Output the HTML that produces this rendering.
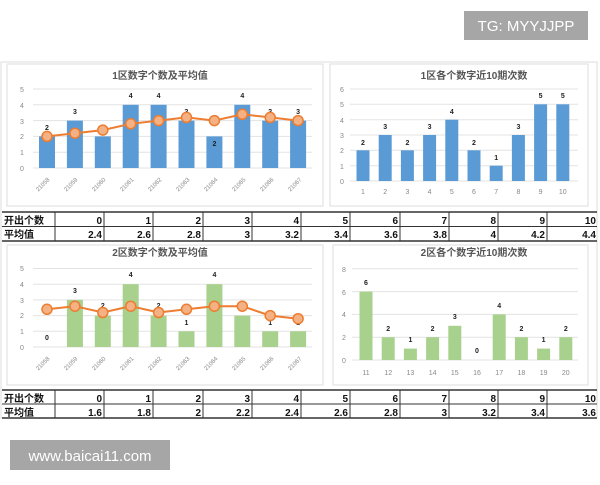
<!DOCTYPE html><html><head><meta charset="utf-8"><style>
body{margin:0;background:#fff;}
svg text{font-family:"Liberation Sans","Noto Sans CJK SC",sans-serif;}
</style></head><body>
<svg width="600" height="480" viewBox="0 0 600 480" xmlns="http://www.w3.org/2000/svg">
<rect width="600" height="480" fill="#fff"/>
<rect x="464" y="11" width="124" height="29" fill="#a6a6a6"/>
<text x="526" y="31" font-size="15" fill="#fff" text-anchor="middle">TG: MYYJJPP</text>
<!-- panels -->
<rect x="1" y="62" width="596" height="356" fill="none" stroke="#ddd"/>
<rect x="7" y="64" width="316" height="142" fill="#fff" stroke="#ddd"/>
<rect x="330" y="64" width="258" height="142" fill="#fff" stroke="#ddd"/>
<rect x="7" y="245" width="316" height="140" fill="#fff" stroke="#ddd"/>
<rect x="333" y="245" width="255" height="140" fill="#fff" stroke="#ddd"/>
<!-- Chart 1 -->
<text x="160" y="79" font-size="10" fill="#555" text-anchor="middle" font-weight="bold">1区数字个数及平均值</text>
<g stroke="#e3e3e3"><line x1="33" x2="312" y1="168" y2="168"/><line x1="33" x2="312" y1="152.2" y2="152.2"/><line x1="33" x2="312" y1="136.4" y2="136.4"/><line x1="33" x2="312" y1="120.6" y2="120.6"/><line x1="33" x2="312" y1="104.8" y2="104.8"/><line x1="33" x2="312" y1="89" y2="89"/></g>
<g font-size="7" fill="#888" text-anchor="middle"><text x="22" y="171">0</text><text x="22" y="155">1</text><text x="22" y="139">2</text><text x="22" y="124">3</text><text x="22" y="108">4</text><text x="22" y="92">5</text></g>
<g fill="#5b9bd5"><rect x="39" y="136.4" width="16" height="31.6"/><rect x="66.9" y="120.6" width="16" height="47.4"/><rect x="94.8" y="136.4" width="16" height="31.6"/><rect x="122.7" y="104.8" width="16" height="63.2"/><rect x="150.6" y="104.8" width="16" height="63.2"/><rect x="178.5" y="120.6" width="16" height="47.4"/><rect x="206.4" y="136.4" width="16" height="31.6"/><rect x="234.3" y="104.8" width="16" height="63.2"/><rect x="262.2" y="120.6" width="16" height="47.4"/><rect x="290.1" y="120.6" width="16" height="47.4"/></g>
<g font-size="7" font-weight="bold" fill="#222" text-anchor="middle"><text x="47" y="130">2</text><text x="74.9" y="114">3</text><text x="102.8" y="130">2</text><text x="130.7" y="98">4</text><text x="158.6" y="98">4</text><text x="186.5" y="114">3</text><text x="214.4" y="146">2</text><text x="242.3" y="98">4</text><text x="270.2" y="114">3</text><text x="298.1" y="114">3</text></g>
<polyline fill="none" stroke="#ed7d31" stroke-width="2" points="47,136.4 74.9,133.2 102.8,130.1 130.7,123.8 158.6,120.6 186.5,117.4 214.4,120.6 242.3,114.3 270.2,117.4 298.1,120.6"/>
<g fill="#f4b183" stroke="#ed7d31" stroke-width="1.5"><circle cx="47" cy="136.4" r="5"/><circle cx="74.9" cy="133.2" r="5"/><circle cx="102.8" cy="130.1" r="5"/><circle cx="130.7" cy="123.8" r="5"/><circle cx="158.6" cy="120.6" r="5"/><circle cx="186.5" cy="117.4" r="5"/><circle cx="214.4" cy="120.6" r="5"/><circle cx="242.3" cy="114.3" r="5"/><circle cx="270.2" cy="117.4" r="5"/><circle cx="298.1" cy="120.6" r="5"/></g>
<g font-size="6" fill="#888" text-anchor="end"><text transform="translate(50,180) rotate(-45)">21058</text><text transform="translate(78,180) rotate(-45)">21059</text><text transform="translate(106,180) rotate(-45)">21060</text><text transform="translate(134,180) rotate(-45)">21061</text><text transform="translate(162,180) rotate(-45)">21062</text><text transform="translate(190,180) rotate(-45)">21063</text><text transform="translate(218,180) rotate(-45)">21064</text><text transform="translate(246,180) rotate(-45)">21065</text><text transform="translate(274,180) rotate(-45)">21066</text><text transform="translate(302,180) rotate(-45)">21067</text></g>
<!-- Chart 2 -->
<text x="474" y="79" font-size="10" fill="#555" text-anchor="middle" font-weight="bold">1区各个数字近10期次数</text>
<g stroke="#e3e3e3"><line x1="350" x2="578" y1="181" y2="181"/><line x1="350" x2="578" y1="165.7" y2="165.7"/><line x1="350" x2="578" y1="150.3" y2="150.3"/><line x1="350" x2="578" y1="135" y2="135"/><line x1="350" x2="578" y1="119.7" y2="119.7"/><line x1="350" x2="578" y1="104.3" y2="104.3"/><line x1="350" x2="578" y1="89" y2="89"/></g>
<g font-size="7" fill="#888" text-anchor="middle"><text x="342" y="184">0</text><text x="342" y="169">1</text><text x="342" y="153">2</text><text x="342" y="138">3</text><text x="342" y="123">4</text><text x="342" y="107">5</text><text x="342" y="92">6</text></g>
<g fill="#5b9bd5"><rect x="356.5" y="150.3" width="13" height="30.7"/><rect x="378.7" y="135" width="13" height="46"/><rect x="400.9" y="150.3" width="13" height="30.7"/><rect x="423.1" y="135" width="13" height="46"/><rect x="445.3" y="119.7" width="13" height="61.3"/><rect x="467.5" y="150.3" width="13" height="30.7"/><rect x="489.7" y="165.7" width="13" height="15.3"/><rect x="511.9" y="135" width="13" height="46"/><rect x="534.1" y="104.3" width="13" height="76.7"/><rect x="556.3" y="104.3" width="13" height="76.7"/></g>
<g font-size="7" font-weight="bold" fill="#222" text-anchor="middle"><text x="363" y="145">2</text><text x="385.2" y="129">3</text><text x="407.4" y="145">2</text><text x="429.6" y="129">3</text><text x="451.8" y="114">4</text><text x="474" y="145">2</text><text x="496.2" y="160">1</text><text x="518.4" y="129">3</text><text x="540.6" y="98">5</text><text x="562.8" y="98">5</text></g>
<g font-size="7" fill="#888" text-anchor="middle"><text x="363" y="194">1</text><text x="385.2" y="194">2</text><text x="407.4" y="194">3</text><text x="429.6" y="194">4</text><text x="451.8" y="194">5</text><text x="474" y="194">6</text><text x="496.2" y="194">7</text><text x="518.4" y="194">8</text><text x="540.6" y="194">9</text><text x="562.8" y="194">10</text></g>
<!-- Table 1 -->
<g stroke="#333" stroke-width="1"><line x1="2" x2="597" y1="212" y2="212" stroke-width="1.5"/><line x1="2" x2="597" y1="226.5" y2="226.5"/><line x1="2" x2="597" y1="241" y2="241" stroke-width="1.5"/>
<line x1="55" x2="55" y1="212" y2="241"/><line x1="104" x2="104" y1="212" y2="241"/><line x1="153" x2="153" y1="212" y2="241"/><line x1="203" x2="203" y1="212" y2="241"/><line x1="252" x2="252" y1="212" y2="241"/><line x1="301" x2="301" y1="212" y2="241"/><line x1="350" x2="350" y1="212" y2="241"/><line x1="400" x2="400" y1="212" y2="241"/><line x1="449" x2="449" y1="212" y2="241"/><line x1="498" x2="498" y1="212" y2="241"/><line x1="547" x2="547" y1="212" y2="241"/></g>
<g font-size="10" font-weight="bold" fill="#111"><text x="4" y="224">开出个数</text><text x="4" y="238">平均值</text></g>
<g font-size="10" font-weight="bold" fill="#111" text-anchor="end"><text x="102" y="224">0</text><text x="151" y="224">1</text><text x="201" y="224">2</text><text x="250" y="224">3</text><text x="299" y="224">4</text><text x="348" y="224">5</text><text x="398" y="224">6</text><text x="447" y="224">7</text><text x="496" y="224">8</text><text x="545" y="224">9</text><text x="596" y="224">10</text>
<text x="102" y="238">2.4</text><text x="151" y="238">2.6</text><text x="201" y="238">2.8</text><text x="250" y="238">3</text><text x="299" y="238">3.2</text><text x="348" y="238">3.4</text><text x="398" y="238">3.6</text><text x="447" y="238">3.8</text><text x="496" y="238">4</text><text x="545" y="238">4.2</text><text x="596" y="238">4.4</text></g>
<!-- Chart 3 -->
<text x="160" y="256" font-size="10" fill="#555" text-anchor="middle" font-weight="bold">2区数字个数及平均值</text>
<g stroke="#e3e3e3"><line x1="33" x2="312" y1="347" y2="347"/><line x1="33" x2="312" y1="331.3" y2="331.3"/><line x1="33" x2="312" y1="315.6" y2="315.6"/><line x1="33" x2="312" y1="299.9" y2="299.9"/><line x1="33" x2="312" y1="284.2" y2="284.2"/><line x1="33" x2="312" y1="268.5" y2="268.5"/></g>
<g font-size="7" fill="#888" text-anchor="middle"><text x="22" y="350">0</text><text x="22" y="334">1</text><text x="22" y="318">2</text><text x="22" y="303">3</text><text x="22" y="287">4</text><text x="22" y="271">5</text></g>
<g fill="#a9d18e"><rect x="66.9" y="299.9" width="16" height="47.1"/><rect x="94.8" y="315.6" width="16" height="31.4"/><rect x="122.7" y="284.2" width="16" height="62.8"/><rect x="150.6" y="315.6" width="16" height="31.4"/><rect x="178.5" y="331.3" width="16" height="15.7"/><rect x="206.4" y="284.2" width="16" height="62.8"/><rect x="234.3" y="315.6" width="16" height="31.4"/><rect x="262.2" y="331.3" width="16" height="15.7"/><rect x="290.1" y="331.3" width="16" height="15.7"/></g>
<g font-size="7" font-weight="bold" fill="#222" text-anchor="middle"><text x="47" y="340">0</text><text x="74.9" y="293">3</text><text x="102.8" y="308">2</text><text x="130.7" y="277">4</text><text x="158.6" y="308">2</text><text x="186.5" y="325">1</text><text x="214.4" y="277">4</text><text x="242.3" y="308">2</text><text x="270.2" y="325">1</text><text x="298.1" y="325">1</text></g>
<polyline fill="none" stroke="#ed7d31" stroke-width="2" points="47,309.3 74.9,306.2 102.8,312.5 130.7,306.2 158.6,312.5 186.5,309.3 214.4,306.2 242.3,306.2 270.2,315.6 298.1,318.7"/>
<g fill="#f4b183" stroke="#ed7d31" stroke-width="1.5"><circle cx="47" cy="309.3" r="5"/><circle cx="74.9" cy="306.2" r="5"/><circle cx="102.8" cy="312.5" r="5"/><circle cx="130.7" cy="306.2" r="5"/><circle cx="158.6" cy="312.5" r="5"/><circle cx="186.5" cy="309.3" r="5"/><circle cx="214.4" cy="306.2" r="5"/><circle cx="242.3" cy="306.2" r="5"/><circle cx="270.2" cy="315.6" r="5"/><circle cx="298.1" cy="318.7" r="5"/></g>
<g font-size="6" fill="#888" text-anchor="end"><text transform="translate(50,359) rotate(-45)">21058</text><text transform="translate(78,359) rotate(-45)">21059</text><text transform="translate(106,359) rotate(-45)">21060</text><text transform="translate(134,359) rotate(-45)">21061</text><text transform="translate(162,359) rotate(-45)">21062</text><text transform="translate(190,359) rotate(-45)">21063</text><text transform="translate(218,359) rotate(-45)">21064</text><text transform="translate(246,359) rotate(-45)">21065</text><text transform="translate(274,359) rotate(-45)">21066</text><text transform="translate(302,359) rotate(-45)">21067</text></g>
<!-- Chart 4 -->
<text x="474" y="256" font-size="10" fill="#555" text-anchor="middle" font-weight="bold">2区各个数字近10期次数</text>
<g stroke="#e3e3e3"><line x1="352" x2="578" y1="360" y2="360"/><line x1="352" x2="578" y1="337.2" y2="337.2"/><line x1="352" x2="578" y1="314.4" y2="314.4"/><line x1="352" x2="578" y1="291.6" y2="291.6"/><line x1="352" x2="578" y1="268.8" y2="268.8"/></g>
<g font-size="7" fill="#888" text-anchor="middle"><text x="344" y="363">0</text><text x="344" y="340">2</text><text x="344" y="317">4</text><text x="344" y="295">6</text><text x="344" y="272">8</text></g>
<g fill="#a9d18e"><rect x="359.5" y="291.6" width="13" height="68.4"/><rect x="381.7" y="337.2" width="13" height="22.8"/><rect x="403.9" y="348.6" width="13" height="11.4"/><rect x="426.1" y="337.2" width="13" height="22.8"/><rect x="448.3" y="325.8" width="13" height="34.2"/><rect x="492.7" y="314.4" width="13" height="45.6"/><rect x="514.9" y="337.2" width="13" height="22.8"/><rect x="537.1" y="348.6" width="13" height="11.4"/><rect x="559.3" y="337.2" width="13" height="22.8"/></g>
<g font-size="7" font-weight="bold" fill="#222" text-anchor="middle"><text x="366" y="285">6</text><text x="388.2" y="331">2</text><text x="410.4" y="342">1</text><text x="432.6" y="331">2</text><text x="454.8" y="319">3</text><text x="477" y="353">0</text><text x="499.2" y="308">4</text><text x="521.4" y="331">2</text><text x="543.6" y="342">1</text><text x="565.8" y="331">2</text></g>
<g font-size="7" fill="#888" text-anchor="middle"><text x="366" y="375">11</text><text x="388.2" y="375">12</text><text x="410.4" y="375">13</text><text x="432.6" y="375">14</text><text x="454.8" y="375">15</text><text x="477" y="375">16</text><text x="499.2" y="375">17</text><text x="521.4" y="375">18</text><text x="543.6" y="375">19</text><text x="565.8" y="375">20</text></g>
<!-- Table 2 -->
<g stroke="#333" stroke-width="1"><line x1="2" x2="597" y1="390" y2="390" stroke-width="1.5"/><line x1="2" x2="597" y1="404" y2="404"/><line x1="2" x2="597" y1="418" y2="418" stroke-width="1.5"/>
<line x1="55" x2="55" y1="390" y2="418"/><line x1="104" x2="104" y1="390" y2="418"/><line x1="153" x2="153" y1="390" y2="418"/><line x1="203" x2="203" y1="390" y2="418"/><line x1="252" x2="252" y1="390" y2="418"/><line x1="301" x2="301" y1="390" y2="418"/><line x1="350" x2="350" y1="390" y2="418"/><line x1="400" x2="400" y1="390" y2="418"/><line x1="449" x2="449" y1="390" y2="418"/><line x1="498" x2="498" y1="390" y2="418"/><line x1="547" x2="547" y1="390" y2="418"/></g>
<g font-size="10" font-weight="bold" fill="#111"><text x="4" y="402">开出个数</text><text x="4" y="416">平均值</text></g>
<g font-size="10" font-weight="bold" fill="#111" text-anchor="end"><text x="102" y="402">0</text><text x="151" y="402">1</text><text x="201" y="402">2</text><text x="250" y="402">3</text><text x="299" y="402">4</text><text x="348" y="402">5</text><text x="398" y="402">6</text><text x="447" y="402">7</text><text x="496" y="402">8</text><text x="545" y="402">9</text><text x="596" y="402">10</text>
<text x="102" y="416">1.6</text><text x="151" y="416">1.8</text><text x="201" y="416">2</text><text x="250" y="416">2.2</text><text x="299" y="416">2.4</text><text x="348" y="416">2.6</text><text x="398" y="416">2.8</text><text x="447" y="416">3</text><text x="496" y="416">3.2</text><text x="545" y="416">3.4</text><text x="596" y="416">3.6</text></g>
<rect x="10" y="440" width="160" height="30" fill="#a6a6a6"/>
<text x="90" y="461" font-size="15" fill="#fff" text-anchor="middle">www.baicai11.com</text>
</svg>
</body></html>
